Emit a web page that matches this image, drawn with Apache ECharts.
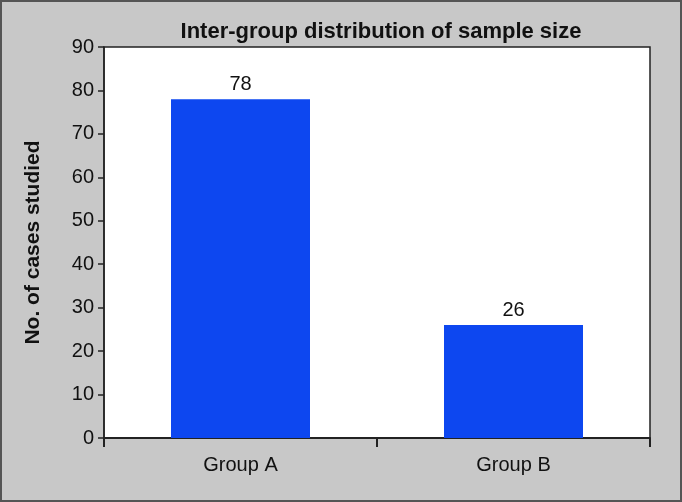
<!DOCTYPE html>
<html>
<head>
<meta charset="utf-8">
<script src="https://cdn.jsdelivr.net/npm/echarts@6/dist/echarts.min.js"></script>
<style>
html,body{margin:0;padding:0;background:#c8c8c8;}
#chart{width:682px;height:502px;}
</style>
</head>
<body>
<div id="chart"></div>
<script>
var categories = ['Group A', 'Group B'];
var values = [78, 26];
var yTicks = [0, 10, 20, 30, 40, 50, 60, 70, 80, 90];

var chart = echarts.init(document.getElementById('chart'), null, {renderer: 'canvas'});
var font = '"Liberation Sans", Arial, sans-serif';
chart.setOption({
  backgroundColor: '#c8c8c8',
  animation: false,
  graphic: [{
    type: 'rect', z: -10, silent: true,
    shape: {x: 1, y: 1, width: 680, height: 500},
    style: {fill: 'none', stroke: '#555', lineWidth: 2}
  }],
  title: {
    text: 'Inter-group distribution of sample size',
    left: 376, top: 16, textAlign: 'center',
    textStyle: {fontFamily: font, fontWeight: 'bold', fontSize: 22, color: '#111'}
  },
  grid: {
    left: 104, right: 32, top: 47, bottom: 64,
    show: true, backgroundColor: '#fff', borderColor: '#222', borderWidth: 1.5
  },
  xAxis: {
    type: 'category',
    data: categories,
    axisLine: {lineStyle: {color: '#222', width: 2}},
    axisTick: {show: true, length: 9, lineStyle: {color: '#222', width: 2}},
    axisLabel: {fontFamily: font, fontSize: 20, color: '#111', margin: 17}
  },
  yAxis: {
    type: 'value',
    min: yTicks[0], max: yTicks[yTicks.length - 1], interval: 10,
    name: 'No. of cases studied',
    nameLocation: 'middle', nameGap: 60,
    nameTextStyle: {fontFamily: font, fontWeight: 'bold', fontSize: 21, color: '#111'},
    axisLine: {show: true, lineStyle: {color: '#222', width: 1.5}},
    axisTick: {show: true, length: 6, lineStyle: {color: '#222', width: 1.5}},
    splitLine: {show: false},
    axisLabel: {fontFamily: font, fontSize: 20, color: '#111', margin: 10}
  },
  series: [{
    type: 'bar',
    data: values,
    barWidth: 139,
    itemStyle: {color: '#0d47f0'},
    label: {show: true, position: 'top', distance: 5, fontFamily: font, fontSize: 20, color: '#111'}
  }]
});
</script>
</body>
</html>
